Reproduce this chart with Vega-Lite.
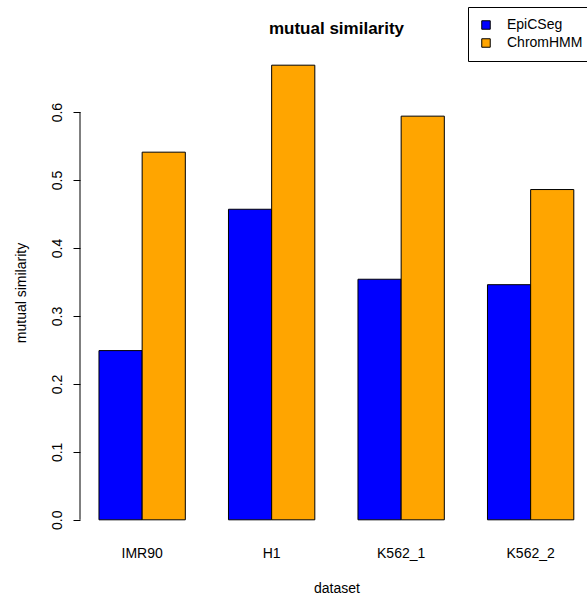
{
  "$schema": "https://vega.github.io/schema/vega-lite/v6.json",
  "width": 507,
  "height": 491,
  "autosize": {"type": "none"},
  "padding": {"left": 80, "top": 47, "right": 0, "bottom": 59},
  "background": "white",
  "title": {
    "text": "mutual similarity",
    "font": "Liberation Sans",
    "fontSize": 17,
    "fontWeight": "bold",
    "color": "black",
    "anchor": "middle",
    "baseline": "alphabetic",
    "dx": 3,
    "dy": 58,
    "offset": 14
  },
  "data": {
    "values": [
      {"dataset": "IMR90", "method": "EpiCSeg", "similarity": 0.249},
      {"dataset": "IMR90", "method": "ChromHMM", "similarity": 0.541},
      {"dataset": "H1", "method": "EpiCSeg", "similarity": 0.457},
      {"dataset": "H1", "method": "ChromHMM", "similarity": 0.669},
      {"dataset": "K562_1", "method": "EpiCSeg", "similarity": 0.354},
      {"dataset": "K562_1", "method": "ChromHMM", "similarity": 0.594},
      {"dataset": "K562_2", "method": "EpiCSeg", "similarity": 0.346},
      {"dataset": "K562_2", "method": "ChromHMM", "similarity": 0.486}
    ]
  },
  "layer": [
    {
      "mark": {"type": "bar", "stroke": "black", "strokeWidth": 1},
      "encoding": {
        "x": {
          "field": "dataset",
          "type": "nominal",
          "sort": ["IMR90", "H1", "K562_1", "K562_2"],
          "scale": {"paddingInner": 0.3333, "paddingOuter": 0.1242, "align": 0.59},
          "axis": {
            "title": "dataset",
            "titleFont": "Liberation Sans",
            "titleFontSize": 14,
            "titleFontWeight": "normal",
            "titleColor": "black",
            "titlePadding": 21,
            "titleX": 256.5,
            "labelFont": "Liberation Sans",
            "labelFontSize": 14,
            "labelColor": "black",
            "labelAngle": 0,
            "labelPadding": 8,
            "domain": false,
            "ticks": false,
            "grid": false
          }
        },
        "xOffset": {
          "field": "method",
          "type": "nominal",
          "sort": ["EpiCSeg", "ChromHMM"],
          "scale": {"paddingInner": 0, "paddingOuter": 0}
        },
        "y": {
          "field": "similarity",
          "type": "quantitative",
          "scale": {"domain": [-0.02676, 0.69576], "nice": false, "zero": false},
          "axis": {
            "title": "mutual similarity",
            "titleFont": "Liberation Sans",
            "titleFontSize": 14,
            "titleFontWeight": "normal",
            "titleColor": "black",
            "titlePadding": 22,
            "values": [0, 0.1, 0.2, 0.3, 0.4, 0.5, 0.6],
            "format": ".1f",
            "labelFont": "Liberation Sans",
            "labelFontSize": 14,
            "labelColor": "black",
            "labelAngle": 270,
            "labelAlign": "center",
            "labelBaseline": "bottom",
            "labelPadding": 9,
            "tickSize": 7,
            "tickColor": "black",
            "domain": false,
            "grid": false
          }
        },
        "color": {
          "field": "method",
          "type": "nominal",
          "sort": ["EpiCSeg", "ChromHMM"],
          "scale": {"domain": ["EpiCSeg", "ChromHMM"], "range": ["#0000FF", "#FFA500"]},
          "legend": {
            "orient": "none",
            "legendX": 388,
            "legendY": -40,
            "title": null,
            "padding": 11,
            "strokeColor": "black",
            "fillColor": "white",
            "symbolType": "square",
            "symbolSize": 72,
            "symbolStrokeColor": "black",
            "symbolStrokeWidth": 1,
            "symbolOpacity": 1,
            "labelFont": "Liberation Sans",
            "labelFontSize": 14,
            "labelColor": "black",
            "labelOffset": 14,
            "labelLimit": 400,
            "rowPadding": 4
          }
        }
      }
    },
    {
      "data": {"values": [{}]},
      "mark": {"type": "rule", "color": "black", "strokeWidth": 1},
      "encoding": {
        "x": {"datum": 0, "type": "quantitative", "scale": {"domain": [0, 1]}, "axis": null},
        "y": {"datum": 0, "type": "quantitative"},
        "y2": {"datum": 0.6}
      }
    }
  ],
  "resolve": {"scale": {"x": "independent"}},
  "config": {
    "font": "Liberation Sans",
    "view": {"stroke": null}
  }
}
